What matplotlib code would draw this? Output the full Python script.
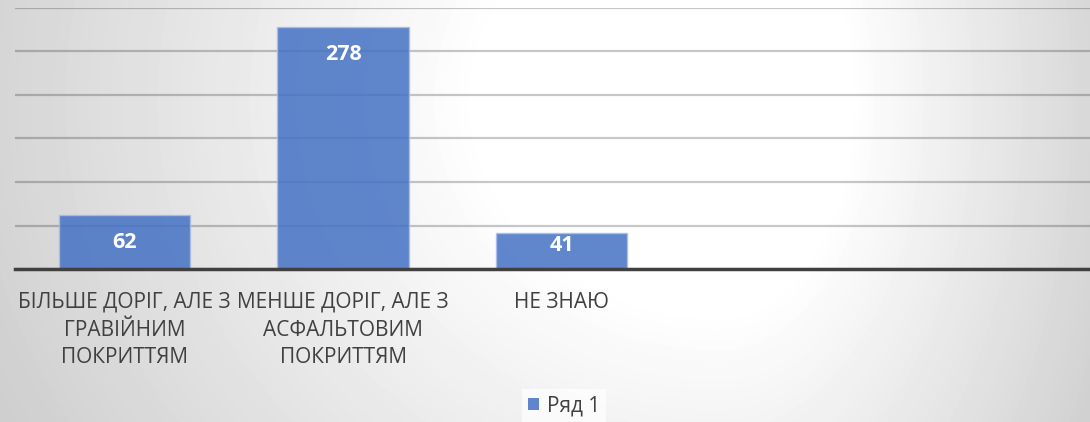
import numpy as np
import matplotlib.pyplot as plt
from matplotlib.patches import Patch

categories = ["БІЛЬШЕ ДОРІГ, АЛЕ З\nГРАВІЙНИМ\nПОКРИТТЯМ",
              "МЕНШЕ ДОРІГ, АЛЕ З\nАСФАЛЬТОВИМ\nПОКРИТТЯМ",
              "НЕ ЗНАЮ"]
values = [62, 278, 41]
series_name = "Ряд 1"
y_ticks = [0, 50, 100, 150, 200, 250, 300]

W, H = 1090, 422
fig = plt.figure(figsize=(W / 100, H / 100), dpi=100)

# gradient background
bg = fig.add_axes([0, 0, 1, 1], zorder=-10)
yy, xx = np.mgrid[0:H, 0:W]
cx, cy = 720, 100
rx = np.where(xx < cx, 800.0, 430.0)
d = np.sqrt(((xx - cx) / rx) ** 2 + ((yy - cy) / 700.0) ** 2)
v = 1 - 0.19 * np.clip((d - 0.3) / 0.7, 0, 1)
bg.imshow(v, cmap='gray', vmin=0, vmax=1, aspect='auto', interpolation='bilinear')
bg.axis('off')

ax = fig.add_axes([15 / W, (H - 269) / H, 1 - 15 / W, (269 - 8) / H])
ax.patch.set_alpha(0)
x = np.arange(len(values))
bars = ax.bar(x, values, width=0.6, color='#4472C4', alpha=0.85,
              edgecolor='#a9bde6', linewidth=1.0, zorder=2)
ax.set_xlim(-0.5, (W - 15) / 218.7 - 0.5)
ax.set_ylim(0, 300)
ax.set_yticks(y_ticks)
ax.yaxis.grid(True, color='#000000', alpha=0.22, linewidth=1.6)
ax.set_axisbelow(True)
for s in ['top', 'right', 'left']:
    ax.spines[s].set_visible(False)
ax.spines['bottom'].set_color('#404040')
ax.spines['bottom'].set_linewidth(2.5)
ax.spines['bottom'].set_zorder(3)
ax.tick_params(left=False, labelleft=False, bottom=False)
ax.set_xticks(x)
ax.set_xticklabels(categories, fontsize=15, color='#404040', family='Open Sans',
                   linespacing=1.42)
ax.tick_params(axis='x', pad=13)

for xi, val in zip(x, values):
    ax.text(xi, max(val - 32, 27.5), str(val),
            ha='center', va='center', color='white', fontsize=15.5,
            fontweight='bold', family='Open Sans', zorder=4)

leg = fig.legend([Patch(facecolor='#4472C4', alpha=0.85)], [series_name],
                 loc='center', bbox_to_anchor=(564 / W, 1 - 406 / H),
                 frameon=True, facecolor='white', edgecolor='none', framealpha=0.7,
                 fancybox=False, handlelength=0.55, handleheight=0.55,
                 handletextpad=0.35, borderpad=0.3,
                 prop={'family': 'Open Sans', 'size': 15},
                 labelcolor='#404040')

fig.savefig('out.png', dpi=100)
